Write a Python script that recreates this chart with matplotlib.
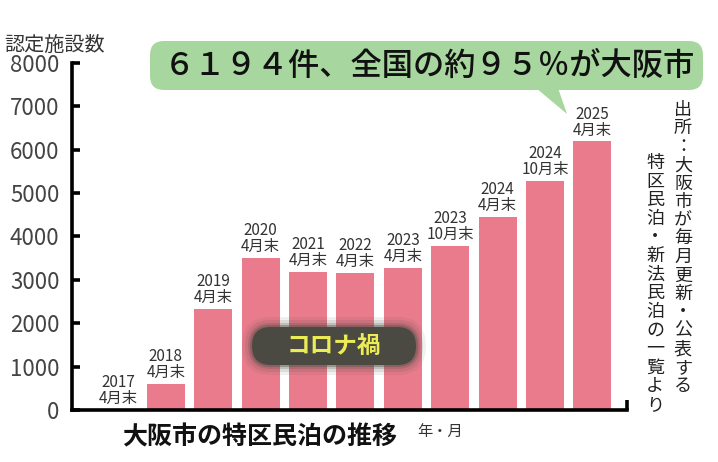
import matplotlib.pyplot as plt
from matplotlib.patches import FancyBboxPatch, Polygon

plt.rcParams['font.family'] = ['Noto Sans CJK JP', 'DejaVu Sans']

years = ["2017", "2018", "2019", "2020", "2021", "2022", "2023", "2023", "2024", "2024", "2025"]
months = ["4月末", "4月末", "4月末", "4月末", "4月末", "4月末", "4月末", "10月末", "4月末", "10月末", "4月末"]
counts = [0, 610, 2330, 3510, 3190, 3160, 3280, 3790, 4450, 5290, 6194]
yticks = [0, 1000, 2000, 3000, 4000, 5000, 6000, 7000, 8000]

title = "６１９４件、全国の約９５％が大阪市"
subtitle = "大阪市の特区民泊の推移"
source_1 = "出所：大阪市が毎月更新・公表する"
source_2 = "特区民泊・新法民泊の一覧より"

bar_color = "#e97b8c"
green = "#a8d69f"

fig = plt.figure(figsize=(7.18, 4.62), dpi=100)
ax = fig.add_axes([72 / 718, 52 / 462, 555 / 718, 347 / 462])

x = list(range(len(counts)))
ax.bar(x, counts, width=0.8, color=bar_color, zorder=2)
for i, v in enumerate(counts):
    ax.text(i, v + 60, years[i] + "\n" + months[i], ha="center", va="bottom",
            fontsize=11, color="#333333", linespacing=0.92, zorder=3)

ax.set_xlim(-0.98, 10.73)
ax.set_ylim(0, 8000)
ax.set_yticks(yticks)
ax.set_xticks([])
for s in ["top", "right"]:
    ax.spines[s].set_visible(False)
for s in ["left", "bottom"]:
    ax.spines[s].set_linewidth(2.6)
ax.tick_params(axis="y", direction="in", length=6, width=2.6, pad=9,
               labelsize=16, labelcolor="#444444")
# little end mark at right of the base line
ax.plot([1, 1], [0, 0.028], transform=ax.transAxes, clip_on=False,
        color="black", lw=2.6, solid_capstyle="butt")

# overlay in pixel coordinates for annotations
ov = fig.add_axes([0, 0, 1, 1], zorder=5)
ov.set_xlim(0, 718)
ov.set_ylim(462, 0)
ov.axis("off")
ov.patch.set_alpha(0)

ov.text(4, 45, "認定施設数", fontsize=14.5, color="#333333", ha="left", va="center")

ov.add_patch(FancyBboxPatch((150, 41), 553, 49, boxstyle="round,pad=0,rounding_size=14",
                            facecolor=green, edgecolor="none"))
ov.add_patch(Polygon([(536, 88), (558, 88), (567, 114)], closed=True,
                     facecolor=green, edgecolor="none"))
ov.text(429, 66, title, fontsize=22.5, fontweight="medium", color="#111111",
        ha="center", va="center")

# "コロナ禍" badge with soft glow
for k, a in [(10, 0.08), (7, 0.12), (4, 0.2), (2, 0.35)]:
    ov.add_patch(FancyBboxPatch((252 - k, 327 - k), 164 + 2 * k, 38 + 2 * k,
                                boxstyle="round,pad=0,rounding_size=%d" % (19 + k),
                                facecolor="#4a4a42", edgecolor="none", alpha=a))
ov.add_patch(FancyBboxPatch((252, 327), 164, 38, boxstyle="round,pad=0,rounding_size=19",
                            facecolor="#4a4a42", edgecolor="none"))
ov.text(334, 346, "コロナ禍", fontsize=17, fontweight="bold", color="#ecec55",
        ha="center", va="center")

ov.text(260, 437, subtitle, fontsize=18, fontweight="bold", color="#111111",
        ha="center", va="center")
ov.text(440, 431, "年・月", fontsize=11, color="#333333", ha="center", va="center")

# vertical source note
for j, ch in enumerate(source_1):
    ov.text(683, 110 + j * 18.4, ch, fontsize=13, color="#222222", ha="center", va="center")
for j, ch in enumerate(source_2):
    ov.text(655, 163 + j * 18.6, ch, fontsize=13, color="#222222", ha="center", va="center")

fig.savefig("out.png", dpi=100)
